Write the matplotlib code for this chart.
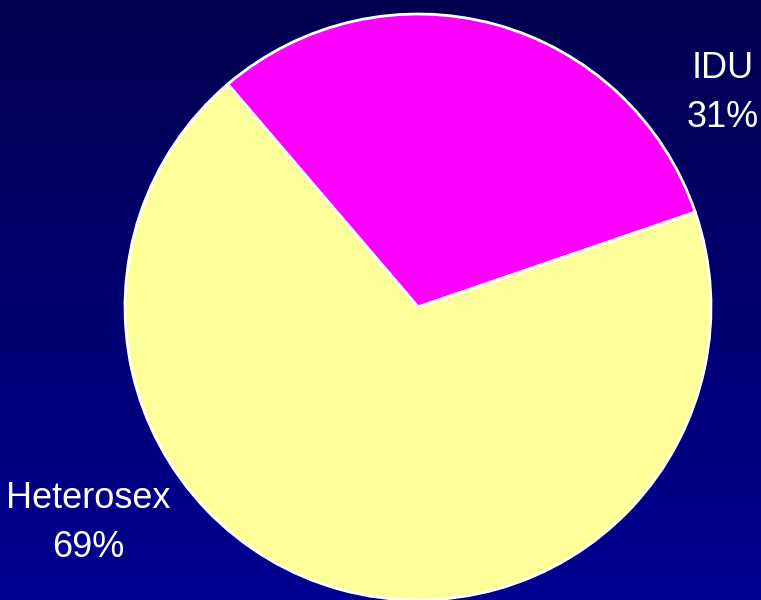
import numpy as np
import matplotlib.pyplot as plt

# Доля шляхів передачі
labels = ["IDU", "Heterosex"]
shares = [31, 69]
colors = ["#ff00ff", "#ffff99"]

W, H = 761, 600
fig = plt.figure(figsize=(W / 100, H / 100), dpi=100)
ax = fig.add_axes([0, 0, 1, 1])

# Градієнтний фон: темно-синій зверху, синій знизу
grad = np.linspace(0, 1, 256).reshape(-1, 1)
top = np.array([0, 0, 0x50]) / 255
bottom = np.array([0, 0, 0x92]) / 255
img = top + (bottom - top) * grad[:, :, None]
ax.imshow(img, extent=[0, W, 0, H], origin="upper", aspect="auto", zorder=0)

ax.pie(shares, colors=colors, startangle=18.9, counterclock=True,
       center=(418, 293), radius=293, frame=True,
       wedgeprops=dict(edgecolor="white", linewidth=2))
ax.set_xlim(0, W)
ax.set_ylim(0, H)
ax.set_aspect("equal")
ax.axis("off")

font = dict(color="white", fontsize=26, family=["Liberation Sans", "DejaVu Sans"],
            ha="center", va="center", linespacing=1.5)
ax.text(723, H - 93, f"{labels[0]}\n{shares[0]}%", **font)
ax.text(88, H - 523, f"{labels[1]}\n{shares[1]}%", **font)

fig.savefig("out.png", dpi=100)
